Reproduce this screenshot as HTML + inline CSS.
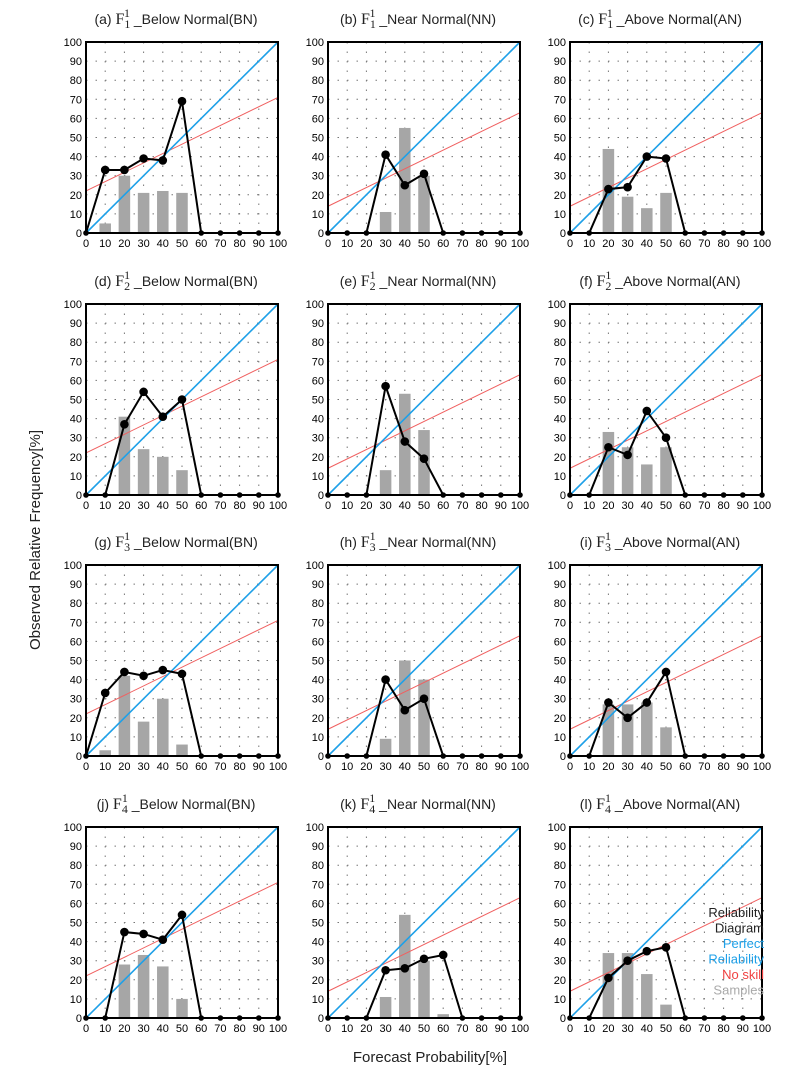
<!DOCTYPE html>
<html><head><meta charset="utf-8"><style>
body{margin:0;background:#fff;}
svg{display:block;font-family:"Liberation Sans",sans-serif;}
</style></head><body>
<svg id="s" width="800" height="1084" xmlns="http://www.w3.org/2000/svg"></svg>
<script>
const P=[
["(a)","Below Normal(BN)",[0,33,33,39,38,69,0,0,0,0,0],{10:5,20:30,30:21,40:22,50:21},22,71],
["(b)","Near Normal(NN)",[0,0,0,41,25,31,0,0,0,0,0],{30:11,40:55,50:30},14,63],
["(c)","Above Normal(AN)",[0,0,23,24,40,39,0,0,0,0,0],{20:44,30:19,40:13,50:21},14,63],
["(d)","Below Normal(BN)",[0,0,37,54,41,50,0,0,0,0,0],{20:41,30:24,40:20,50:13},22,71],
["(e)","Near Normal(NN)",[0,0,0,57,28,19,0,0,0,0,0],{30:13,40:53,50:34},14,63],
["(f)","Above Normal(AN)",[0,0,25,21,44,30,0,0,0,0,0],{20:33,30:25,40:16,50:25},14,63],
["(g)","Below Normal(BN)",[0,33,44,42,45,43,0,0,0,0,0],{10:3,20:42,30:18,40:30,50:6},22,71],
["(h)","Near Normal(NN)",[0,0,0,40,24,30,0,0,0,0,0],{30:9,40:50,50:40},14,63],
["(i)","Above Normal(AN)",[0,0,28,20,28,44,0,0,0,0,0],{20:27,30:27,40:28,50:15},14,63],
["(j)","Below Normal(BN)",[0,0,45,44,41,54,0,0,0,0,0],{20:28,30:33,40:27,50:10},22,71],
["(k)","Near Normal(NN)",[0,0,0,25,26,31,33,0,0,0,0],{30:11,40:54,50:30,60:2},14,63],
["(l)","Above Normal(AN)",[0,0,21,30,35,37,0,0,0,0,0],{20:34,30:34,40:23,50:7},14,63]];
const X0=[86,328,570],Y0=[42,304,565,827],W=192,H=191;
let h='';
P.forEach((p,i)=>{
 const r=Math.floor(i/3),c=i%3,L=X0[c],T=Y0[r],sub=r+1;
 const fx=v=>L+v*W/100, fy=v=>T+H-v*H/100;
 h+=`<text x="${L+W/2-6}" y="${T-18}" font-size="14" text-anchor="middle" fill="#222">${p[0]} <tspan font-family="Liberation Serif" font-size="16">F</tspan><tspan font-family="Liberation Serif" font-size="12" dy="4">${sub}</tspan><tspan font-family="Liberation Serif" font-size="12" dy="-11" dx="-6">1</tspan><tspan dy="7"> _${p[1]}</tspan></text>`;
 for(let k=1;k<10;k++){
  h+=`<line x1="${fx(k*10)}" y1="${T}" x2="${fx(k*10)}" y2="${T+H}" stroke="#777" stroke-width="1" stroke-dasharray="1.5 8"/>`;
  h+=`<line x1="${L}" y1="${fy(k*10)}" x2="${L+W}" y2="${fy(k*10)}" stroke="#777" stroke-width="1" stroke-dasharray="1.5 8"/>`;
 }
 for(const k in p[3]){const v=p[3][k];h+=`<rect x="${fx(+k-3)}" y="${fy(v)}" width="${W*0.06}" height="${fy(0)-fy(v)}" fill="#a6a6a6"/>`;}
 h+=`<line x1="${fx(0)}" y1="${fy(p[4])}" x2="${fx(100)}" y2="${fy(p[5])}" stroke="#f06060" stroke-width="1"/>`;
 h+=`<line x1="${fx(0)}" y1="${fy(0)}" x2="${fx(100)}" y2="${fy(100)}" stroke="#1ea0e8" stroke-width="1.6"/>`;
 h+=`<polyline fill="none" stroke="#000" stroke-width="2" points="${p[2].map((v,k)=>fx(k*10)+','+fy(v)).join(' ')}"/>`;
 p[2].forEach((v,k)=>{h+=`<circle cx="${fx(k*10)}" cy="${fy(v)}" r="${v>0?4.3:2.8}" fill="#000"/>`;});
 h+=`<rect x="${L}" y="${T}" width="${W}" height="${H}" fill="none" stroke="#000" stroke-width="2"/>`;
 for(let k=0;k<=10;k++){
  h+=`<text x="${L-4}" y="${fy(k*10)+4}" font-size="11" text-anchor="end">${k*10}</text>`;
  h+=`<text x="${fx(k*10)}" y="${T+H+14}" font-size="11" text-anchor="middle">${k*10}</text>`;
 }
 if(i==11){
  const lg=[["Reliability","#222"],["Diagram","#222"],["Perfect","#1ea0e8"],["Reliability","#1ea0e8"],["No skill","#f04040"],["Samples","#aaa"]];
  lg.forEach((a,j)=>h+=`<text x="${L+W+2}" y="${T+H*0.47+j*15.5}" font-size="13" text-anchor="end" fill="${a[1]}">${a[0]}</text>`);
 }
});
h+=`<text x="0" y="0" font-size="15" text-anchor="middle" fill="#222" transform="translate(40,540) rotate(-90)">Observed Relative Frequency[%]</text>`;
h+=`<text x="430" y="1062" font-size="15" text-anchor="middle" fill="#222">Forecast Probability[%]</text>`;
document.getElementById('s').innerHTML=h;
</script>
</body></html>
